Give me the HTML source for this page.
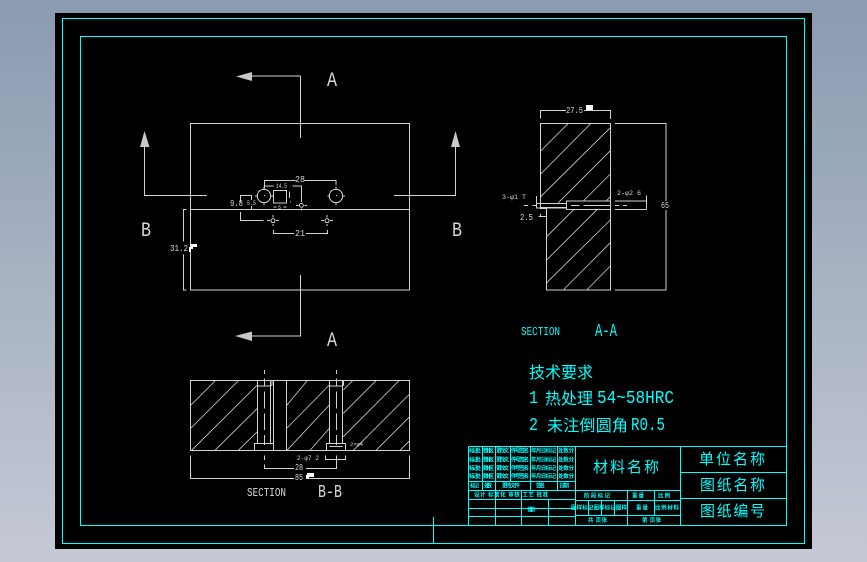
<!DOCTYPE html>
<html>
<head>
<meta charset="utf-8">
<style>
html,body{margin:0;padding:0;width:867px;height:562px;overflow:hidden;background:linear-gradient(180deg,#8a9bb0 0%,#c5c9d5 100%);}
svg{display:block;position:absolute;left:0;top:0;}
text{font-family:"Liberation Sans","Noto Sans CJK SC",sans-serif;}
text.m{font-family:"Liberation Mono","Noto Sans CJK SC",monospace;}
.cj{font-family:"Liberation Sans","WenQuanYi Zen Hei","Noto Sans CJK SC",sans-serif;fill:#00ffff;}
.g text{fill:#d8d8d8;stroke:none;}
.t{font-size:5.5px;fill:#00ffff;font-family:"Liberation Sans","Noto Sans CJK SC",sans-serif;font-weight:700;}
</style>
</head>
<body>
<svg width="867" height="562" viewBox="0 0 867 562" xmlns="http://www.w3.org/2000/svg">
<rect x="55" y="13" width="757" height="536" fill="#000"/>
<g fill="none" stroke="#00ffff" stroke-width="1" shape-rendering="crispEdges">
<rect x="62.5" y="18.5" width="742" height="525"/>
<rect x="80.5" y="36.5" width="706" height="489"/>
<path d="M433.5 517V543"/>
<!-- title block -->
<path d="M468.5 446.5H786.5M680.5 472.5H786.5M680.5 498.5H786.5M575.5 446.5V525M680.5 446.5V525"/>
<path d="M468.5 446.5V525M468.5 481.5H575M468.5 490.5H575M468.5 499.5H575M468.5 508.5H575M468.5 516.5H575"/>
<path d="M482.5 446.5V490M495.5 446.5V525M510.5 446.5V481M530.5 446.5V490M557.5 446.5V490M521.5 490V525M548.5 499V525"/>
<path d="M575.5 490.5H680M575.5 500.5H680M575.5 515.5H680M627.5 490V525M588.5 500V515M601.5 500V515M614.5 500V515M654.5 490V515"/>
</g>

<!-- grey drawing: coordinates in 3x zoom units -->
<g class="g">
<g transform="translate(130,60) scale(.33333)" fill="none" stroke="#d2d2d2" stroke-width="3" shape-rendering="crispEdges">
<rect x="181" y="190" width="657" height="500"/>
<path d="M181 448H838M511 48V234M366 48H511M511 645V828H366M44 260V406H231M977 260V406H792"/>
<path d="M403 385V362H497M523 362H618V375M403 378H430M487 378H514V420"/>
<circle cx="402" cy="408" r="20"/><circle cx="618" cy="408" r="20"/>
<path d="M402 380V388M402 428V436M375 408H382M422 408H430M618 380V388M618 428V436M592 408H598M638 408H645M402 407H405M618 407H621"/>
<rect x="430" y="391" width="40" height="38"/>
<path d="M331 426V406H364V420M364 438V448M331 456V481H400M430 441H440M460 441H470M430 510V520H492M528 520H593V510"/>
<path d="M170 448H160V545M160 583V690H170"/>
<circle cx="514" cy="436" r="6"/><circle cx="429" cy="482" r="6"/><circle cx="591" cy="482" r="6"/>
<path d="M498 436H505M523 436H531M514 420V426M514 446V452M411 482H420M438 482H447M429 465V472M429 492V498M573 482H582M600 482H609M591 465V472M591 492V498"/>
<path d="M478 395V414M482 424V428"/>
</g>
<!-- arrowheads -->
<g fill="#c8c8c8" stroke="none">
<polygon points="236,76.5 252,72 252,81"/>
<polygon points="235,336 252,331.5 252,341"/>
<polygon points="144.5,131 140,147 149.5,147"/>
<polygon points="455.5,131 451,147 460,147"/>
</g>
<g fill="#fff" stroke="none">
<path d="M190 244h7v3h-4v2h-2v3h-2v-5h1z"/>
<path d="M586 105h7v5h-7z"/>
<path d="M307 473h7v4h-5v2h-3v-4h1z"/>
</g>
<text class="m" x="327" y="86" font-size="20" textLength="10" lengthAdjust="spacingAndGlyphs">A</text>
<text class="m" x="327" y="346" font-size="20" textLength="10" lengthAdjust="spacingAndGlyphs">A</text>
<text class="m" x="141" y="236" font-size="20" textLength="10" lengthAdjust="spacingAndGlyphs">B</text>
<text class="m" x="452" y="236" font-size="20" textLength="10" lengthAdjust="spacingAndGlyphs">B</text>
<text class="m" x="295" y="182" font-size="9" textLength="10" lengthAdjust="spacingAndGlyphs">28</text>
<text class="m" x="276" y="188" font-size="6" textLength="11" lengthAdjust="spacingAndGlyphs">14.5</text>
<text class="m" x="230" y="206" font-size="9" textLength="13" lengthAdjust="spacingAndGlyphs">9.8</text>
<text class="m" x="247" y="205" font-size="6" textLength="9" lengthAdjust="spacingAndGlyphs">5.5</text>
<text class="m" x="278" y="209" font-size="5">5</text>
<text class="m" x="295" y="236" font-size="9" textLength="10" lengthAdjust="spacingAndGlyphs">21</text>
<text class="m" x="170" y="251" font-size="9" textLength="18" lengthAdjust="spacingAndGlyphs">31.2</text>

<!-- Section A-A -->
<g transform="translate(490,90) scale(.33333)" fill="none" stroke="#d2d2d2" stroke-width="3" shape-rendering="crispEdges">
<path d="M152 100H361V600H170V355H152ZM375 100H528V333M528 360V600H375"/>
<path d="M152 85V61H228M282 61H361V87"/>
<path d="M229 333H361V358H229ZM375 333H470M375 358H470M470 316V358"/>
<path d="M139 318V354H229M139 340H229M152 352H229"/>
<path d="M145 379H169M152 372V379"/>
<path d="M102 346H114M127 346H139M243 346H268M280 346H360M375 346H387M399 346H411" />
</g>
<g transform="translate(490,90) scale(.33333)" fill="none" stroke="#d2d2d2" stroke-width="2.4">
<path d="M152 183L235 100M152 252L303 100M152 320L361 113M205 338L361 182M280 333L361 252M348 333L361 320"/>
<path d="M170 440L252 358M170 510L322 358M170 578L361 390M220 600L361 458M290 600L361 528"/>
</g>
<text class="m" x="566" y="113" font-size="9" textLength="17" lengthAdjust="spacingAndGlyphs">27.5</text>
<text class="m" x="661" y="208" font-size="9" textLength="8" lengthAdjust="spacingAndGlyphs">65</text>
<text class="m" x="502" y="199" font-size="6" textLength="24" lengthAdjust="spacingAndGlyphs">3-φ1 T</text>
<text class="m" x="617" y="195" font-size="6" textLength="24" lengthAdjust="spacingAndGlyphs">2-φ2 6</text>
<text class="m" x="520" y="220" font-size="9" textLength="13" lengthAdjust="spacingAndGlyphs">2.5</text>

<!-- Section B-B -->
<g transform="translate(180,330) scale(.33333)" fill="none" stroke="#d2d2d2" stroke-width="3" shape-rendering="crispEdges">
<rect x="31" y="151" width="658" height="210"/>
<path d="M232 151V340M272 151V340M232 168H272M276 151V165L272 168M281 151V361M320 151V361"/>
<rect x="223" y="340" width="58" height="21"/>
<path d="M448 151V340M488 151V340M448 168H488M491 151V165L488 168"/>
<rect x="439" y="340" width="58" height="21"/>
<path d="M448 350H488"/>
<path d="M253 120V132M253 145V168M253 185V235M253 250V300M253 315V345M253 376V390"/>
<path d="M469 120V132M469 145V168M469 185V235M469 250V300M469 315V345"/>
<path d="M31 376V445H342M378 445H689V376M253 403V415H342M378 415H469V376M437 376V388H497V376"/>
</g>
<g transform="translate(180,330) scale(.33333)" fill="none" stroke="#d2d2d2" stroke-width="2.4">
<path d="M33 225L105 153M33 294L175 152M35 361L232 165M105 361L232 235M175 361L232 305"/>
<path d="M321 225L381 153M321 294L448 165M321 361L448 225M390 361L448 295"/>
<path d="M490 180L518 152M490 250L588 152M490 320L657 152M520 361L689 192M588 361L689 260M660 361L689 332"/>
</g>
<text class="m" x="295" y="470" font-size="9" textLength="8" lengthAdjust="spacingAndGlyphs">28</text>
<text class="m" x="295" y="480" font-size="9" textLength="8" lengthAdjust="spacingAndGlyphs">85</text>
<text class="m" x="297" y="460" font-size="6" textLength="22" lengthAdjust="spacingAndGlyphs">2-φ7 2</text>
<text class="m" x="350" y="446" font-size="5" textLength="13" lengthAdjust="spacingAndGlyphs">2×φ4</text>
<text class="m" x="247" y="496" font-size="12" textLength="39" lengthAdjust="spacingAndGlyphs">SECTION</text>
<text class="m" x="318" y="497" font-size="18" textLength="24" lengthAdjust="spacingAndGlyphs">B-B</text>
</g>

<!-- cyan text -->
<text class="m" x="521" y="335" font-size="12" textLength="39" lengthAdjust="spacingAndGlyphs" fill="#00ffff">SECTION</text>
<text class="m" x="595" y="336" font-size="18" textLength="22" lengthAdjust="spacingAndGlyphs" fill="#00ffff">A-A</text>

<text class="cj" x="529" y="378" font-size="16" textLength="64">技术要求</text>
<text class="m" x="529" y="403" font-size="18" fill="#00ffff" textLength="9" lengthAdjust="spacingAndGlyphs">1</text>
<text class="cj" x="545" y="404" font-size="16" textLength="48">热处理</text>
<text class="m" x="597" y="403" font-size="18" fill="#00ffff" textLength="77" lengthAdjust="spacingAndGlyphs">54~58HRC</text>
<text class="m" x="529" y="430" font-size="18" fill="#00ffff" textLength="9" lengthAdjust="spacingAndGlyphs">2</text>
<text class="cj" x="547" y="431" font-size="16" textLength="81">未注倒圆角</text>
<text class="m" x="631" y="430" font-size="18" fill="#00ffff" textLength="34" lengthAdjust="spacingAndGlyphs">R0.5</text>

<text class="cj" x="593" y="472" font-size="15" textLength="66">材料名称</text>
<text class="cj" x="699" y="464" font-size="15" textLength="66">单位名称</text>
<text class="cj" x="700" y="490" font-size="15" textLength="65">图纸名称</text>
<text class="cj" x="700" y="516" font-size="15" textLength="65">图纸编号</text>

<!-- small table text -->
<g>
<text class="t" x="469" y="452.5" textLength="12">标记处</text><text class="t" x="483" y="452.5" textLength="11">数分区</text><text class="t" x="496" y="452.5" textLength="13">更改文</text><text class="t" x="511" y="452.5" textLength="18">件号签名</text><text class="t" x="531" y="452.5" textLength="25">年月日标记</text><text class="t" x="558" y="452.5" textLength="16">处数分</text>
<text class="t" x="469" y="461.5" textLength="12">标记处</text><text class="t" x="483" y="461.5" textLength="11">数分区</text><text class="t" x="496" y="461.5" textLength="13">更改文</text><text class="t" x="511" y="461.5" textLength="18">件号签名</text><text class="t" x="531" y="461.5" textLength="25">年月日标记</text><text class="t" x="558" y="461.5" textLength="16">处数分</text>
<text class="t" x="469" y="470" textLength="12">标记处</text><text class="t" x="483" y="470" textLength="11">数分区</text><text class="t" x="496" y="470" textLength="13">更改文</text><text class="t" x="511" y="470" textLength="18">件号签名</text><text class="t" x="531" y="470" textLength="25">年月日标记</text><text class="t" x="558" y="470" textLength="16">处数分</text>
<text class="t" x="469" y="478" textLength="12">标记处</text><text class="t" x="483" y="478" textLength="11">数分区</text><text class="t" x="496" y="478" textLength="13">更改文</text><text class="t" x="511" y="478" textLength="18">件号签名</text><text class="t" x="531" y="478" textLength="25">年月日标记</text><text class="t" x="558" y="478" textLength="16">处数分</text>
<text class="t" x="470" y="487.5" textLength="9">标记</text><text class="t" x="484" y="487.5" textLength="8">处数</text><text class="t" x="502" y="487.5" textLength="18">更改文件</text><text class="t" x="536" y="487.5" textLength="9">签名</text><text class="t" x="559" y="487.5" textLength="10">日期</text>
<text class="t" x="474" y="496.5" textLength="74">设计 标准化 审核 工艺 批准</text>
<text class="t" x="527" y="511.5" textLength="8">日期</text>
<text class="t" x="584" y="497.5" textLength="26">阶段标记</text>
<text class="t" x="632" y="497.5" textLength="12">重量</text>
<text class="t" x="658" y="497.5" textLength="12">比例</text>
<text class="t" x="571" y="509.5" textLength="56">图样标记图样标记图样</text>
<text class="t" x="636" y="509.5" textLength="12">重量</text>
<text class="t" x="655" y="509.5" textLength="24">比例材料</text>
<text class="t" x="588" y="522" textLength="19">共 页张</text>
<text class="t" x="642" y="522" textLength="19">第 页张</text>
</g>
</svg>
</body>
</html>
